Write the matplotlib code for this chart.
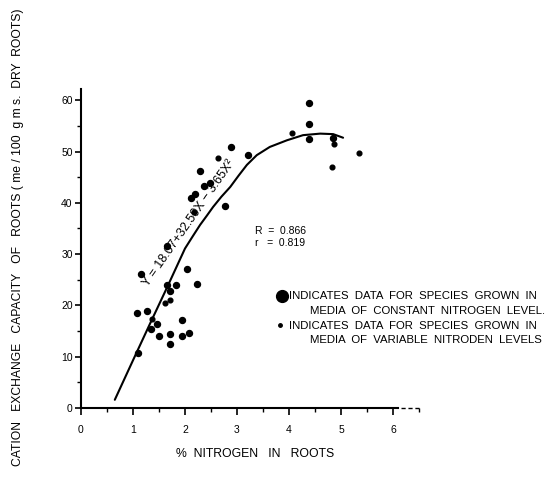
import matplotlib
matplotlib.use("Agg")
import matplotlib.pyplot as plt
from matplotlib.ticker import MultipleLocator

plt.rcParams['font.family'] = ['Liberation Sans', 'DejaVu Sans']

# species grown in media of constant nitrogen level (large dots)
const_n = [1.15, 1.65, 2.04, 2.12, 2.19, 2.29, 2.37, 2.48, 2.88, 3.21, 2.77, 4.38, 4.38, 4.38,
           4.85, 1.08, 1.27, 1.65, 1.83, 2.23, 1.71, 1.46, 1.35, 1.50, 1.71, 1.71, 1.94, 2.08,
           1.94, 1.10]
const_cec = [26.1, 31.6, 27.1, 40.9, 41.7, 46.2, 43.3, 43.9, 50.9, 49.3, 39.4, 59.5, 55.4, 52.4,
             52.6, 18.5, 18.9, 24.0, 24.0, 24.2, 22.8, 16.4, 15.4, 14.0, 14.4, 12.5, 14.0, 14.6,
             17.2, 10.7]

# species grown in media of variable nitrogen levels (small dots)
var_n = [2.17, 2.63, 4.06, 4.87, 5.35, 4.83, 1.71, 1.62, 1.37]
var_cec = [38.2, 48.7, 53.6, 51.5, 49.7, 47.0, 21.1, 20.5, 17.3]

# regression curve as drawn on the chart
curve_n = [0.65, 1.0, 1.33, 1.65, 2.0, 2.15, 2.29, 2.42, 2.54, 2.70, 2.87, 3.03, 3.19, 3.38,
           3.63, 3.96, 4.27, 4.60, 4.85, 5.04]
curve_cec = [1.6, 9.3, 16.5, 23.4, 31.1, 33.5, 35.7, 37.5, 39.2, 41.2, 43.1, 45.3, 47.4, 49.3,
             50.9, 52.2, 53.2, 53.5, 53.4, 52.7]

W, H = 547, 491
fig = plt.figure(figsize=(W / 100, H / 100), dpi=100)
ax = fig.add_axes([81 / W, 1 - 408 / H, 338 / W, 319 / H])

ax.plot(curve_n, curve_cec, color="black", lw=1.5, solid_capstyle="round", solid_joinstyle="round")
ax.plot(const_n, const_cec, "o", color="black", ms=4.3, mec="black")
ax.plot(var_n, var_cec, "o", color="black", ms=3.4, mec="black")

ax.set_xlim(0, 6.5)
ax.set_ylim(0, 62.2)
ax.spines['top'].set_visible(False)
ax.spines['right'].set_visible(False)
ax.spines['left'].set_linewidth(1.5)
ax.spines['bottom'].set_linewidth(1.5)
ax.spines['bottom'].set_bounds(0, 6.1)
ax.plot([6.15, 6.5], [0, 0], color="black", lw=1.0, ls=(0, (3, 2)), clip_on=False)

ax.xaxis.set_major_locator(MultipleLocator(1))
ax.xaxis.set_minor_locator(MultipleLocator(0.5))
ax.yaxis.set_major_locator(MultipleLocator(10))
ax.yaxis.set_minor_locator(MultipleLocator(5))
ax.tick_params(which="major", direction="out", length=5, width=1.2, labelsize=7.5, pad=7)
ax.tick_params(which="minor", direction="out", length=3, width=1.0)
ax.tick_params(axis="y", which="major", length=4, pad=2)

ax.text(3.35, -8.97, "%  NITROGEN   IN   ROOTS", ha="center", va="center", fontsize=8.8)
fig.text(18 / W, 1 - 237 / H,
         "CATION   EXCHANGE   CAPACITY   OF   ROOTS ( me / 100  g m s.  DRY  ROOTS)",
         rotation=90, ha="center", va="center", fontsize=8.7)

ax.text(2.07, 36.0, "Y = 18.07+32.50X \u2212 3.65X\u00b2", rotation=55, ha="center", va="center",
        fontsize=9)
ax.text(3.35, 34.6, "R  =  0.866", fontsize=7.5, va="center")
ax.text(3.35, 32.1, "r   =  0.819", fontsize=7.5, va="center")

ax.plot([3.865], [21.9], "o", color="black", ms=8.5, clip_on=False)
ax.plot([3.83], [16.2], "o", color="black", ms=2.5, clip_on=False)
fig.text(289 / W, 1 - 296 / H, "INDICATES  DATA  FOR  SPECIES  GROWN  IN", fontsize=8.2, va="center")
fig.text(310 / W, 1 - 311 / H, "MEDIA  OF  CONSTANT  NITROGEN  LEVEL.", fontsize=8.2, va="center")
fig.text(289 / W, 1 - 326 / H, "INDICATES  DATA  FOR  SPECIES  GROWN  IN", fontsize=8.2, va="center")
fig.text(310 / W, 1 - 340 / H, "MEDIA  OF  VARIABLE  NITRODEN  LEVELS", fontsize=8.2, va="center")

fig.savefig("out.png", dpi=100)
